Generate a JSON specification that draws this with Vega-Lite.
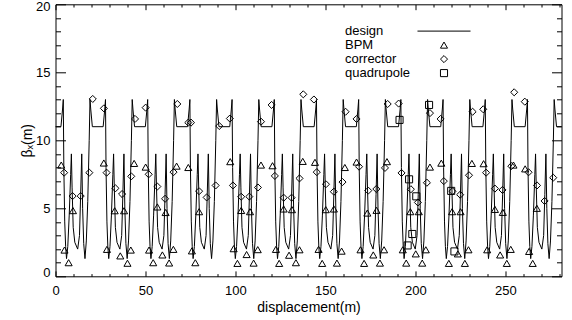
{
  "$schema": "https://vega.github.io/schema/vega-lite/v6.json",
  "width": 506,
  "height": 272,
  "autosize": "none",
  "padding": {"left": 55.5, "top": 4.3, "right": 10.5, "bottom": 43.7},
  "background": "white",
  "config": {"view": {"stroke": "black", "strokeWidth": 1}, "font": "Liberation Sans"},
  "datasets": {
    "design": [
      {"x":0,"y":11},{"x":3.03,"y":11},{"x":3.93,"y":12.3},{"x":4.33,"y":13},{"x":4.63,"y":8},{"x":5.13,"y":4},{"x":5.63,"y":2.2},{"x":6.13,"y":1.3},{"x":6.83,"y":2.2},{"x":7.63,"y":4.5},{"x":8.43,"y":7.5},{"x":8.83,"y":9},{"x":9.23,"y":6.5},{"x":9.83,"y":3.6},{"x":10.73,"y":2.5},{"x":12.33,"y":2.0},{"x":13.33,"y":3.0},{"x":13.98,"y":6},{"x":14.58,"y":9},{"x":15.08,"y":5},{"x":15.68,"y":2.4},{"x":16.38,"y":1.3},{"x":17.13,"y":2.6},{"x":17.93,"y":5.5},{"x":18.73,"y":10},
      {"x":19.18,"y":13},{"x":19.58,"y":12.3},{"x":20.48,"y":11},{"x":26.48,"y":11},{"x":27.38,"y":12.3},{"x":27.78,"y":13},{"x":28.08,"y":8},{"x":28.58,"y":4},{"x":29.08,"y":2.2},{"x":29.58,"y":1.3},{"x":30.28,"y":2.2},{"x":31.08,"y":4.5},{"x":31.88,"y":7.5},{"x":32.28,"y":9},{"x":32.68,"y":6.5},{"x":33.28,"y":3.6},{"x":34.18,"y":2.5},{"x":35.78,"y":2.0},{"x":36.78,"y":3.0},{"x":37.43,"y":6},{"x":38.03,"y":9},{"x":38.53,"y":5},{"x":39.13,"y":2.4},{"x":39.83,"y":1.3},{"x":40.58,"y":2.6},{"x":41.38,"y":5.5},{"x":42.18,"y":10},
      {"x":42.63,"y":13},{"x":43.03,"y":12.3},{"x":43.93,"y":11},{"x":49.93,"y":11},{"x":50.83,"y":12.3},{"x":51.23,"y":13},{"x":51.53,"y":8},{"x":52.03,"y":4},{"x":52.53,"y":2.2},{"x":53.03,"y":1.3},{"x":53.73,"y":2.2},{"x":54.53,"y":4.5},{"x":55.33,"y":7.5},{"x":55.73,"y":9},{"x":56.13,"y":6.5},{"x":56.73,"y":3.6},{"x":57.63,"y":2.5},{"x":59.23,"y":2.0},{"x":60.23,"y":3.0},{"x":60.88,"y":6},{"x":61.48,"y":9},{"x":61.98,"y":5},{"x":62.58,"y":2.4},{"x":63.28,"y":1.3},{"x":64.03,"y":2.6},{"x":64.83,"y":5.5},{"x":65.63,"y":10},
      {"x":66.08,"y":13},{"x":66.48,"y":12.3},{"x":67.38,"y":11},{"x":73.38,"y":11},{"x":74.28,"y":12.3},{"x":74.68,"y":13},{"x":74.98,"y":8},{"x":75.48,"y":4},{"x":75.98,"y":2.2},{"x":76.48,"y":1.3},{"x":77.18,"y":2.2},{"x":77.98,"y":4.5},{"x":78.78,"y":7.5},{"x":79.18,"y":9},{"x":79.58,"y":6.5},{"x":80.18,"y":3.6},{"x":81.08,"y":2.5},{"x":82.68,"y":2.0},{"x":83.68,"y":3.0},{"x":84.33,"y":6},{"x":84.93,"y":9},{"x":85.43,"y":5},{"x":86.03,"y":2.4},{"x":86.73,"y":1.3},{"x":87.48,"y":2.6},{"x":88.28,"y":5.5},{"x":89.08,"y":10},
      {"x":89.53,"y":13},{"x":89.93,"y":12.3},{"x":90.83,"y":11},{"x":96.83,"y":11},{"x":97.73,"y":12.3},{"x":98.13,"y":13},{"x":98.43,"y":8},{"x":98.93,"y":4},{"x":99.43,"y":2.2},{"x":99.93,"y":1.3},{"x":100.63,"y":2.2},{"x":101.43,"y":4.5},{"x":102.23,"y":7.5},{"x":102.63,"y":9},{"x":103.03,"y":6.5},{"x":103.63,"y":3.6},{"x":104.53,"y":2.5},{"x":106.13,"y":2.0},{"x":107.13,"y":3.0},{"x":107.78,"y":6},{"x":108.38,"y":9},{"x":108.88,"y":5},{"x":109.48,"y":2.4},{"x":110.18,"y":1.3},{"x":110.93,"y":2.6},{"x":111.73,"y":5.5},{"x":112.53,"y":10},
      {"x":112.98,"y":13},{"x":113.38,"y":12.3},{"x":114.28,"y":11},{"x":120.28,"y":11},{"x":121.18,"y":12.3},{"x":121.58,"y":13},{"x":121.88,"y":8},{"x":122.38,"y":4},{"x":122.88,"y":2.2},{"x":123.38,"y":1.3},{"x":124.08,"y":2.2},{"x":124.88,"y":4.5},{"x":125.68,"y":7.5},{"x":126.08,"y":9},{"x":126.48,"y":6.5},{"x":127.08,"y":3.6},{"x":127.98,"y":2.5},{"x":129.58,"y":2.0},{"x":130.58,"y":3.0},{"x":131.23,"y":6},{"x":131.83,"y":9},{"x":132.33,"y":5},{"x":132.93,"y":2.4},{"x":133.63,"y":1.3},{"x":134.38,"y":2.6},{"x":135.18,"y":5.5},{"x":135.98,"y":10},
      {"x":136.43,"y":13},{"x":136.83,"y":12.3},{"x":137.73,"y":11},{"x":143.73,"y":11},{"x":144.63,"y":12.3},{"x":145.03,"y":13},{"x":145.33,"y":8},{"x":145.83,"y":4},{"x":146.33,"y":2.2},{"x":146.83,"y":1.3},{"x":147.53,"y":2.2},{"x":148.33,"y":4.5},{"x":149.13,"y":7.5},{"x":149.53,"y":9},{"x":149.93,"y":6.5},{"x":150.53,"y":3.6},{"x":151.43,"y":2.5},{"x":153.03,"y":2.0},{"x":154.03,"y":3.0},{"x":154.68,"y":6},{"x":155.28,"y":9},{"x":155.78,"y":5},{"x":156.38,"y":2.4},{"x":157.08,"y":1.3},{"x":157.83,"y":2.6},{"x":158.63,"y":5.5},{"x":159.43,"y":10},
      {"x":159.88,"y":13},{"x":160.28,"y":12.3},{"x":161.18,"y":11},{"x":167.18,"y":11},{"x":168.08,"y":12.3},{"x":168.48,"y":13},{"x":168.78,"y":8},{"x":169.28,"y":4},{"x":169.78,"y":2.2},{"x":170.28,"y":1.3},{"x":170.98,"y":2.2},{"x":171.78,"y":4.5},{"x":172.58,"y":7.5},{"x":172.98,"y":9},{"x":173.38,"y":6.5},{"x":173.98,"y":3.6},{"x":174.88,"y":2.5},{"x":176.48,"y":2.0},{"x":177.48,"y":3.0},{"x":178.13,"y":6},{"x":178.73,"y":9},{"x":179.23,"y":5},{"x":179.83,"y":2.4},{"x":180.53,"y":1.3},{"x":181.28,"y":2.6},{"x":182.08,"y":5.5},{"x":182.88,"y":10},
      {"x":183.33,"y":13},{"x":183.73,"y":12.3},{"x":184.63,"y":11},{"x":190.63,"y":11},{"x":191.53,"y":12.3},{"x":191.93,"y":13},{"x":192.23,"y":8},{"x":192.73,"y":4},{"x":193.23,"y":2.2},{"x":193.73,"y":1.3},{"x":194.43,"y":2.2},{"x":195.23,"y":4.5},{"x":196.03,"y":7.5},{"x":196.43,"y":9},{"x":196.83,"y":6.5},{"x":197.43,"y":3.6},{"x":198.33,"y":2.5},{"x":199.93,"y":2.0},{"x":200.93,"y":3.0},{"x":201.58,"y":6},{"x":202.18,"y":9},{"x":202.68,"y":5},{"x":203.28,"y":2.4},{"x":203.98,"y":1.3},{"x":204.73,"y":2.6},{"x":205.53,"y":5.5},{"x":206.33,"y":10},
      {"x":206.78,"y":13},{"x":207.18,"y":12.3},{"x":208.08,"y":11},{"x":214.08,"y":11},{"x":214.98,"y":12.3},{"x":215.38,"y":13},{"x":215.68,"y":8},{"x":216.18,"y":4},{"x":216.68,"y":2.2},{"x":217.18,"y":1.3},{"x":217.88,"y":2.2},{"x":218.68,"y":4.5},{"x":219.48,"y":7.5},{"x":219.88,"y":9},{"x":220.28,"y":6.5},{"x":220.88,"y":3.6},{"x":221.78,"y":2.5},{"x":223.38,"y":2.0},{"x":224.38,"y":3.0},{"x":225.03,"y":6},{"x":225.63,"y":9},{"x":226.13,"y":5},{"x":226.73,"y":2.4},{"x":227.43,"y":1.3},{"x":228.18,"y":2.6},{"x":228.98,"y":5.5},{"x":229.78,"y":10},
      {"x":230.23,"y":13},{"x":230.63,"y":12.3},{"x":231.53,"y":11},{"x":237.53,"y":11},{"x":238.43,"y":12.3},{"x":238.83,"y":13},{"x":239.13,"y":8},{"x":239.63,"y":4},{"x":240.13,"y":2.2},{"x":240.63,"y":1.3},{"x":241.33,"y":2.2},{"x":242.13,"y":4.5},{"x":242.93,"y":7.5},{"x":243.33,"y":9},{"x":243.73,"y":6.5},{"x":244.33,"y":3.6},{"x":245.23,"y":2.5},{"x":246.83,"y":2.0},{"x":247.83,"y":3.0},{"x":248.48,"y":6},{"x":249.08,"y":9},{"x":249.58,"y":5},{"x":250.18,"y":2.4},{"x":250.88,"y":1.3},{"x":251.63,"y":2.6},{"x":252.43,"y":5.5},{"x":253.23,"y":10},
      {"x":253.68,"y":13},{"x":254.08,"y":12.3},{"x":254.98,"y":11},{"x":260.98,"y":11},{"x":261.88,"y":12.3},{"x":262.28,"y":13},{"x":262.58,"y":8},{"x":263.08,"y":4},{"x":263.58,"y":2.2},{"x":264.08,"y":1.3},{"x":264.78,"y":2.2},{"x":265.58,"y":4.5},{"x":266.38,"y":7.5},{"x":266.78,"y":9},{"x":267.18,"y":6.5},{"x":267.78,"y":3.6},{"x":268.68,"y":2.5},{"x":270.28,"y":2.0},{"x":271.28,"y":3.0},{"x":271.93,"y":6},{"x":272.53,"y":9},{"x":273.03,"y":5},{"x":273.63,"y":2.4},{"x":274.33,"y":1.3},{"x":275.08,"y":2.6},{"x":275.88,"y":5.5},{"x":276.68,"y":10},
      {"x":277.13,"y":13},{"x":277.53,"y":12.3},{"x":278.43,"y":11},{"x":281.2,"y":11}
    ],
    "marks": [
      {"t":"BPM","x":3.2,"y":8.18},{"t":"BPM","x":5.0,"y":1.93},{"t":"BPM","x":7.3,"y":1.0},{"t":"BPM","x":9.7,"y":4.83},
      {"t":"BPM","x":26.85,"y":8.33},{"t":"BPM","x":28.6,"y":1.98},{"t":"BPM","x":32.9,"y":4.82},{"t":"BPM","x":36.0,"y":1.5},{"t":"BPM","x":38.1,"y":4.82},{"t":"BPM","x":40.0,"y":0.96},{"t":"BPM","x":41.85,"y":1.93},{"t":"BPM","x":43.7,"y":8.3},
      {"t":"BPM","x":50.1,"y":8.03},{"t":"BPM","x":52.0,"y":1.93},{"t":"BPM","x":54.3,"y":1.0},{"t":"BPM","x":56.6,"y":5.1},{"t":"BPM","x":59.4,"y":1.57},{"t":"BPM","x":61.2,"y":4.69},{"t":"BPM","x":63.15,"y":0.98},{"t":"BPM","x":65.5,"y":1.98},{"t":"BPM","x":67.3,"y":8.1},
      {"t":"BPM","x":73.8,"y":8.0},{"t":"BPM","x":75.8,"y":1.87},{"t":"BPM","x":77.7,"y":1.0},{"t":"BPM","x":79.8,"y":4.75},
      {"t":"BPM","x":97.1,"y":8.43},{"t":"BPM","x":99.0,"y":2.03},{"t":"BPM","x":101.1,"y":0.95},{"t":"BPM","x":103.2,"y":4.84},{"t":"BPM","x":106.2,"y":1.6},{"t":"BPM","x":108.1,"y":4.75},{"t":"BPM","x":110.1,"y":0.97},{"t":"BPM","x":112.4,"y":1.96},{"t":"BPM","x":114.2,"y":8.18},
      {"t":"BPM","x":120.6,"y":8.13},{"t":"BPM","x":122.5,"y":1.98},{"t":"BPM","x":124.3,"y":0.95},{"t":"BPM","x":126.8,"y":4.95},{"t":"BPM","x":129.8,"y":1.55},{"t":"BPM","x":131.4,"y":4.9},{"t":"BPM","x":133.6,"y":1.0},{"t":"BPM","x":135.6,"y":1.95},{"t":"BPM","x":137.4,"y":8.45},
      {"t":"BPM","x":144.2,"y":8.38},{"t":"BPM","x":146.2,"y":1.98},{"t":"BPM","x":148.2,"y":0.95},{"t":"BPM","x":150.2,"y":4.9},{"t":"BPM","x":154.7,"y":4.95},{"t":"BPM","x":156.4,"y":0.97},{"t":"BPM","x":159.0,"y":1.85},{"t":"BPM","x":160.8,"y":8.0},
      {"t":"BPM","x":167.3,"y":8.4},{"t":"BPM","x":169.5,"y":1.95},{"t":"BPM","x":171.5,"y":0.95},{"t":"BPM","x":173.3,"y":4.65},{"t":"BPM","x":176.6,"y":1.57},{"t":"BPM","x":178.4,"y":4.85},{"t":"BPM","x":180.3,"y":0.97},{"t":"BPM","x":182.6,"y":1.95},{"t":"BPM","x":184.2,"y":8.43},
      {"t":"BPM","x":193.0,"y":1.95},{"t":"BPM","x":194.9,"y":0.97},{"t":"BPM","x":197.2,"y":4.75},{"t":"BPM","x":200.2,"y":1.65},{"t":"BPM","x":201.9,"y":4.75},{"t":"BPM","x":203.8,"y":0.97},{"t":"BPM","x":205.8,"y":1.95},{"t":"BPM","x":208.1,"y":8.03},
      {"t":"BPM","x":214.4,"y":8.32},{"t":"BPM","x":218.6,"y":0.95},{"t":"BPM","x":220.4,"y":4.75},{"t":"BPM","x":223.6,"y":1.65},{"t":"BPM","x":225.1,"y":4.75},{"t":"BPM","x":227.5,"y":0.95},{"t":"BPM","x":229.5,"y":1.95},{"t":"BPM","x":231.4,"y":8.3},
      {"t":"BPM","x":237.9,"y":8.28},{"t":"BPM","x":239.9,"y":1.95},{"t":"BPM","x":244.2,"y":4.92},{"t":"BPM","x":247.1,"y":1.57},{"t":"BPM","x":248.6,"y":4.7},{"t":"BPM","x":250.8,"y":0.95},{"t":"BPM","x":253.0,"y":1.98},{"t":"BPM","x":254.5,"y":8.18},
      {"t":"BPM","x":261.0,"y":7.9},{"t":"BPM","x":263.2,"y":1.83},{"t":"BPM","x":265.2,"y":0.95},{"t":"BPM","x":267.5,"y":5.0},
      {"t":"corrector","x":20.7,"y":13.04},{"t":"corrector","x":26.9,"y":12.35},{"t":"corrector","x":44.2,"y":11.57},{"t":"corrector","x":50.1,"y":12.4},{"t":"corrector","x":67.7,"y":12.67},{"t":"corrector","x":73.8,"y":11.3},{"t":"corrector","x":75.3,"y":11.3},{"t":"corrector","x":91.0,"y":11.05},{"t":"corrector","x":96.9,"y":11.6},{"t":"corrector","x":114.2,"y":11.37},{"t":"corrector","x":120.1,"y":12.6},{"t":"corrector","x":137.7,"y":13.38},{"t":"corrector","x":143.6,"y":13.0},{"t":"corrector","x":161.2,"y":12.1},{"t":"corrector","x":167.3,"y":11.57},{"t":"corrector","x":184.6,"y":12.67},{"t":"corrector","x":190.7,"y":12.7},{"t":"corrector","x":208.1,"y":12.0},{"t":"corrector","x":214.0,"y":11.57},{"t":"corrector","x":231.8,"y":12.1},{"t":"corrector","x":237.7,"y":12.28},{"t":"corrector","x":254.9,"y":13.53},{"t":"corrector","x":260.8,"y":12.84},
      {"t":"corrector","x":4.8,"y":7.62},{"t":"corrector","x":9.5,"y":5.9},{"t":"corrector","x":14.0,"y":5.9},{"t":"corrector","x":18.8,"y":7.62},{"t":"corrector","x":28.4,"y":7.62},{"t":"corrector","x":33.3,"y":6.47},{"t":"corrector","x":37.0,"y":6.05},{"t":"corrector","x":42.1,"y":7.35},{"t":"corrector","x":51.8,"y":7.5},{"t":"corrector","x":56.6,"y":6.6},{"t":"corrector","x":60.9,"y":5.7},{"t":"corrector","x":65.6,"y":7.66},{"t":"corrector","x":79.8,"y":6.26},{"t":"corrector","x":84.0,"y":5.8},{"t":"corrector","x":89.0,"y":6.68},{"t":"corrector","x":98.6,"y":6.68},{"t":"corrector","x":103.2,"y":5.85},{"t":"corrector","x":107.7,"y":5.86},{"t":"corrector","x":112.5,"y":6.53},{"t":"corrector","x":121.9,"y":7.38},{"t":"corrector","x":126.8,"y":5.78},{"t":"corrector","x":131.2,"y":5.78},{"t":"corrector","x":135.6,"y":7.2},{"t":"corrector","x":145.2,"y":7.66},{"t":"corrector","x":150.3,"y":6.77},{"t":"corrector","x":154.7,"y":6.22},{"t":"corrector","x":159.5,"y":6.93},{"t":"corrector","x":168.7,"y":8.06},{"t":"corrector","x":173.8,"y":6.3},{"t":"corrector","x":178.3,"y":6.42},{"t":"corrector","x":183.1,"y":7.97},{"t":"corrector","x":192.3,"y":7.6},{"t":"corrector","x":197.5,"y":6.4},{"t":"corrector","x":201.4,"y":5.43},{"t":"corrector","x":206.4,"y":6.88},{"t":"corrector","x":215.8,"y":7.0},{"t":"corrector","x":220.6,"y":6.25},{"t":"corrector","x":224.9,"y":6.0},{"t":"corrector","x":229.8,"y":7.43},{"t":"corrector","x":239.3,"y":7.62},{"t":"corrector","x":244.2,"y":6.45},{"t":"corrector","x":248.4,"y":6.35},{"t":"corrector","x":253.3,"y":8.1},{"t":"corrector","x":262.9,"y":7.65},{"t":"corrector","x":267.6,"y":6.68},{"t":"corrector","x":271.8,"y":5.54},{"t":"corrector","x":276.6,"y":7.25},
      {"t":"quadrupole","x":191.2,"y":11.5},{"t":"quadrupole","x":196.5,"y":7.13},{"t":"quadrupole","x":200.5,"y":5.88},{"t":"quadrupole","x":198.3,"y":3.11},{"t":"quadrupole","x":195.7,"y":2.27},{"t":"quadrupole","x":207.6,"y":12.6},{"t":"quadrupole","x":219.9,"y":6.28},{"t":"quadrupole","x":221.7,"y":1.83}
    ]
  },
  "layer": [
    {
      "data": {"name": "design"},
      "mark": {"type": "line", "color": "black", "strokeWidth": 1},
      "encoding": {
        "x": {"field": "x", "type": "quantitative", "scale": {"domain": [0, 281.2], "nice": false, "zero": false},
          "axis": {"values": [0,10,20,30,40,50,60,70,80,90,100,110,120,130,140,150,160,170,180,190,200,210,220,230,240,250,260,270,280],
            "tickSize": {"condition": {"test": "datum.value % 50 === 0", "value": -5.4}, "value": -2.7},
            "labelExpr": "datum.value % 50 === 0 ? datum.label : ''",
            "grid": false, "domain": false, "tickColor": "black", "labelColor": "black", "labelFontSize": 13, "labelPadding": 14,
            "labelFlush": false, "labelOverlap": false, "labelFont": "Liberation Sans",
            "title": "displacement(m)", "titleFontSize": 14, "titleFontWeight": "normal", "titleColor": "black", "titlePadding": 0, "titleFont": "Liberation Sans"}},
        "y": {"field": "y", "type": "quantitative", "scale": {"domain": [0, 20], "nice": false, "zero": false},
          "axis": {"values": [0,1,2,3,4,5,6,7,8,9,10,11,12,13,14,15,16,17,18,19,20],
            "tickSize": {"condition": {"test": "datum.value % 5 === 0", "value": -10}, "value": -5},
            "labelExpr": "datum.value % 5 === 0 ? datum.label : ''",
            "grid": false, "domain": false, "tickColor": "black", "labelColor": "black", "labelFontSize": 13, "labelPadding": 15.5,
            "labelFlush": true, "labelFlushOffset": 3.5, "labelOverlap": false, "labelFont": "Liberation Sans",
            "title": "βₓ(m)", "titleFontSize": 14, "titleFontWeight": "normal", "titleColor": "black", "titlePadding": 1, "titleFont": "Liberation Sans"}}
      }
    },
    {
      "data": {"name": "marks"},
      "mark": {"type": "point", "filled": false, "color": "black", "strokeWidth": 1, "size": 50, "opacity": 1},
      "encoding": {
        "x": {"field": "x", "type": "quantitative",
          "axis": {"values": [0,10,20,30,40,50,60,70,80,90,100,110,120,130,140,150,160,170,180,190,200,210,220,230,240,250,260,270,280],
            "tickSize": {"condition": {"test": "datum.value % 50 === 0", "value": -5.4}, "value": -2.7},
            "labels": false, "grid": false, "domain": false, "tickColor": "black", "title": null}},
        "y": {"field": "y", "type": "quantitative",
          "axis": {"values": [0,1,2,3,4,5,6,7,8,9,10,11,12,13,14,15,16,17,18,19,20],
            "tickSize": {"condition": {"test": "datum.value % 5 === 0", "value": -10}, "value": -5},
            "labels": false, "grid": false, "domain": false, "tickColor": "black", "title": null}},
        "shape": {"field": "t", "type": "nominal",
          "scale": {"domain": ["design", "BPM", "corrector", "quadrupole"], "range": ["M-7.5,0L7.5,0", "triangle-up", "diamond", "square"]},
          "legend": {"orient": "none", "legendX": 382, "legendY": 20.3, "title": null, "padding": 0,
            "labelAlign": "left", "labelOffset": -105.5, "labelFontSize": 13, "labelFont": "Liberation Sans", "labelColor": "black", "labelLimit": 0,
            "symbolStrokeColor": "black", "symbolFillColor": "transparent", "symbolStrokeWidth": 1, "symbolSize": 50, "rowPadding": -1.7}}
      }
    }
  ],
  "resolve": {"axis": {"x": "independent", "y": "independent"}}
}
